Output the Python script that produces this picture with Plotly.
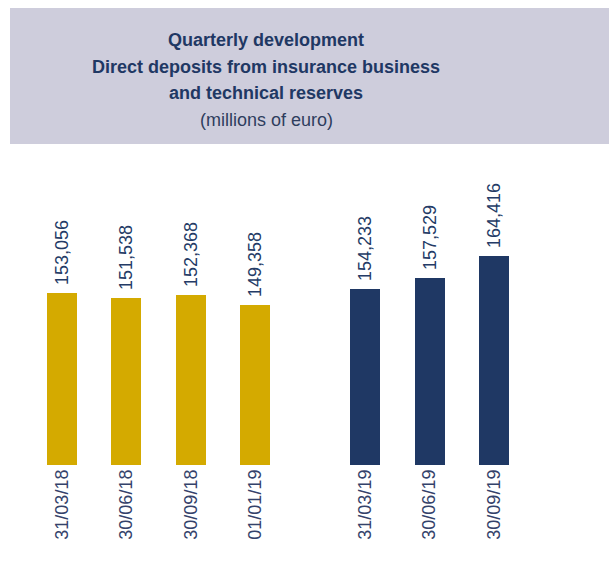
import plotly.graph_objects as go

# data
dates_2018 = ["31/03/18", "30/06/18", "30/09/18", "01/01/19"]
values_2018 = [153056, 151538, 152368, 149358]
dates_2019 = ["31/03/19", "30/06/19", "30/09/19"]
values_2019 = [154233, 157529, 164416]

TITLE_LINES = [
    "Quarterly development",
    "Direct deposits from insurance business",
    "and technical reserves",
]
SUBTITLE = "(millions of euro)"

GOLD = "#D4AA00"
NAVY = "#1F3864"
TEXT_NAVY = "#243B66"
BOX_BG = "#CECDDC"
FONT = "Liberation Sans, Arial, sans-serif"

W, H = 609, 568
M_L, M_R, M_T, M_B = 20, 20, 140, 103
GROUP_GAP = 0.7  # extra space between the two groups


def px_x(px):
    return (px - M_L) / (W - M_L - M_R)


def px_y(py):
    return (H - M_B - py) / (H - M_T - M_B)


x_2018 = list(range(len(dates_2018)))
x_2019 = [len(dates_2018) + GROUP_GAP + i for i in range(len(dates_2019))]

fig = go.Figure()
for xs, vals, col in [(x_2018, values_2018, GOLD), (x_2019, values_2019, NAVY)]:
    fig.add_trace(
        go.Bar(
            x=xs,
            y=vals,
            width=0.465,
            marker=dict(color=col, line_width=0),
            text=[f"\u00a0{v:,}" for v in vals],
            textposition="outside",
            textangle=-90,
            constraintext="none",
            cliponaxis=False,
            textfont=dict(family=FONT, size=18, color=TEXT_NAVY),
            showlegend=False,
            hoverinfo="skip",
        )
    )

# title box
fig.add_shape(
    type="rect", xref="paper", yref="paper",
    x0=px_x(10), x1=px_x(612), y0=px_y(144), y1=px_y(8),
    fillcolor=BOX_BG, line_width=0, layer="below",
)
title_x = px_x(266)
for i, line in enumerate(TITLE_LINES):
    fig.add_annotation(
        x=title_x, y=px_y(40 + 26.5 * i), xref="paper", yref="paper",
        text=f"<b>{line}</b>", showarrow=False, xanchor="center", yanchor="middle",
        font=dict(family=FONT, size=18, color=NAVY),
    )
fig.add_annotation(
    x=title_x, y=px_y(119.5), xref="paper", yref="paper",
    text=SUBTITLE, showarrow=False, xanchor="center", yanchor="middle",
    font=dict(family=FONT, size=18, color="#2E3D5E"),
)

fig.update_layout(
    width=W, height=H,
    margin=dict(l=M_L, r=M_R, t=M_T, b=M_B),
    paper_bgcolor="white", plot_bgcolor="white",
    bargap=0,
    xaxis=dict(
        range=[-0.651, 8.171],
        tickmode="array",
        tickvals=x_2018 + x_2019,
        ticktext=dates_2018 + dates_2019,
        tickangle=-90,
        tickfont=dict(family=FONT, size=18, color="#34426A"),
        showgrid=False, zeroline=False, showline=False, ticks="",
    ),
    yaxis=dict(range=[100000, 200000], visible=False),
)

fig.write_html(
    "out.html",
    config={"displayModeBar": False},
    post_script="document.body.style.margin='0';",
)
